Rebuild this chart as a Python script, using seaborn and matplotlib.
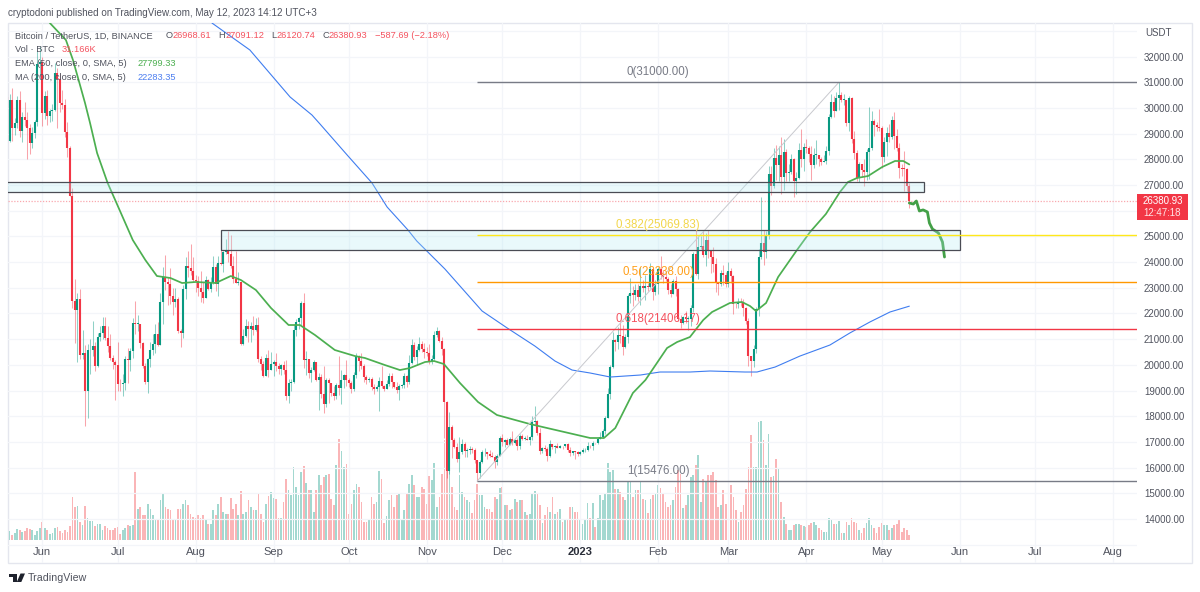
import numpy as np
import pandas as pd
import matplotlib
matplotlib.use("Agg")
import matplotlib.pyplot as plt
import matplotlib.dates as mdates
from matplotlib.patches import Rectangle, Polygon
import seaborn as sns

# BTC/USDT daily candles, 18 May 2022 to 12 May 2023; each row below is one calendar month
FIRST_DAY = "2022-05-18"
FIRST_OPEN = 30440

closes = [
 28700,30300,29200,29430,30290,29100,29650,29540,29200,28630,29020,29470,31720,31790,
 29800,30450,29700,29860,29900,31370,31130,30200,30110,29080,28420,26570,22490,22130,22580,20380,20470,18970,20570,20570,20720,19970,21100,21230,21500,21040,20730,20280,20100,19980,
 19260,19240,19310,20210,20180,20550,21640,21590,21590,20860,19970,19330,20210,20590,20830,21200,20780,22440,23400,23230,23160,22680,22450,22580,21310,21250,22960,23840,23770,23640,23300,
 23270,22980,22820,22620,23310,22950,23170,23810,23150,23950,23930,24400,24440,24300,23850,23340,23190,23210,20830,21140,21520,21400,21520,21370,21560,20240,20040,19550,20280,19810,20050,
 20130,19950,19830,20000,19800,18790,19290,19320,21360,21650,21830,22400,20170,20230,19700,19800,20110,19420,19540,18880,18480,19400,19290,18920,18800,19220,19080,19410,19590,19420,
 19310,19050,19620,20330,20160,19950,19530,19420,19440,19130,19060,19150,19370,19170,19070,19260,19550,19330,19120,19040,19160,19200,19570,19330,20090,20770,20290,20590,20820,20630,20490,
 20480,20150,20210,21150,21300,20920,20600,18540,15880,17600,17070,16810,16330,16610,16900,16660,16690,16700,16690,16280,15780,16220,16600,16600,16520,16460,16430,16210,16440,17170,
 16980,17090,16890,17110,16970,17090,16840,17220,17130,17130,17090,17210,17770,17800,17360,16630,16780,16740,16440,16900,16820,16830,16780,16840,16830,16920,16700,16550,16630,16600,16540,
 16620,16670,16670,16850,16830,16950,16940,17120,17180,17440,17940,18850,19930,20950,20870,21180,21130,20680,21070,22670,22780,22710,22920,22630,23060,23010,23080,23030,23740,22830,23130,
 23730,23490,23430,23330,22930,22760,23250,22960,21800,21630,21860,21780,21780,22200,24330,23520,24570,24630,24280,24840,24440,24190,23940,23190,23160,23560,23490,23130,
 23650,23470,22360,22350,22430,22410,22200,21700,20360,20150,20630,22160,24200,24750,24380,25050,27420,26970,28040,27770,28170,27300,28300,27470,27490,28000,27140,27270,28350,28030,28470,
 28450,28200,27790,28170,28170,28030,27900,27950,28330,29650,30230,29880,30390,30490,30320,30320,29430,30390,28800,28240,27260,27820,27590,27520,28300,28420,29480,29340,29250,29230,
 28070,28680,29030,28850,29530,28900,28450,27660,27630,27620,26968.61,26380.93,
]
highs = [
 30670,30540,30770,29600,30480,30670,29830,30220,29850,29390,29250,29530,32220,32400,
 31980,30650,30680,29950,30170,31760,31550,31320,30700,30350,29450,28530,26900,23360,22790,22970,21350,20780,20800,21000,21700,20900,21230,21520,21860,21860,21500,21200,20400,20170,
 20900,19430,19650,20350,20650,20670,21820,22500,21950,21600,20880,20060,20250,20880,21200,21600,21680,22780,23800,24280,23430,23750,22990,22990,22650,21400,23100,24200,24440,24700,24200,
 23500,23460,23640,23220,23470,23350,23400,24240,23920,24220,24920,24450,24890,25210,25050,24250,24450,23600,23210,21380,21800,21700,21670,21900,21820,21880,20330,20150,20420,20580,20490,
 20200,20450,20060,20050,20160,20180,19460,19460,21600,21800,21860,22490,22790,20550,20200,19900,20190,20100,19690,19630,19950,19480,19500,19300,19180,19310,20350,19780,19640,20180,
 19480,19390,19720,20470,20370,20450,20050,19600,19520,19520,19270,19220,19520,19950,19220,19420,19680,19700,19350,19350,19250,19250,19680,19600,20400,21020,20870,20750,21080,20930,20840,
 20700,20800,20400,21300,21480,21370,21070,20670,18600,18150,17650,17150,16950,17190,17130,17000,16750,16850,16810,16750,16290,16300,16700,16770,16620,16690,16600,16490,16530,17250,
 17320,17110,17150,17200,17430,17110,17140,17290,17300,17230,17270,17240,18000,18390,17850,17530,16800,16870,16820,17060,16900,16870,16950,16870,16860,16930,16970,16790,16660,16650,16630,
 16630,16770,16760,17000,16880,17040,16960,17180,17390,17490,18000,19100,19990,21260,21000,21480,21650,21560,21200,22750,23370,23080,23160,23150,23820,23290,23500,23190,23960,23780,23310,
 23810,24250,23710,23590,23430,23160,23350,23450,23000,21950,21900,22100,21900,22330,24380,25250,25020,25000,25190,25120,25250,24480,24600,24150,23210,23680,23880,23600,
 24000,23770,23480,22420,22620,22600,22550,22260,21820,20300,20790,22270,24500,26550,25250,25200,27750,27720,28450,28550,28500,28850,28800,28400,27800,28200,28050,27500,28650,29170,28650,
 28800,28530,28500,28450,28750,28180,28100,28170,28530,29770,30550,30480,30620,31000,30600,30550,30320,30470,30410,29090,28370,27880,27830,28000,28400,30020,29880,29570,29450,29950,
 29300,28880,29250,29380,29680,29850,29170,28650,27830,28320,27650,27091.12,
]
lows = [
 28650,28670,28730,28950,29230,28850,28670,29300,28020,28200,28450,28830,29300,31200,
 29300,29570,29350,29450,29500,29880,29220,29850,29950,28850,28100,26560,22200,20850,20100,20230,20240,17620,17950,19640,20350,19770,19900,20940,21000,20950,20500,20200,19850,18630,
 19000,18970,18780,19040,19300,19770,20260,21190,21320,20640,19880,19240,18900,19900,20380,20480,20750,20770,21580,22900,22340,22350,21930,22250,21250,20700,21040,22580,23400,23500,23230,
 22850,22660,22430,22400,22600,22920,22850,23150,22870,22660,23900,23600,24300,24000,23780,23200,23190,23100,20780,20760,21100,20890,20890,21150,21320,20100,19800,19520,19550,19530,19800,
 19570,19750,19660,19600,19630,18640,18500,19000,19300,21120,21380,21550,19870,19620,19500,19320,19750,19370,18230,18720,18120,18360,18530,18800,18630,18680,18820,18470,19100,19170,
 19150,18920,19000,19500,19750,19850,19320,19250,19320,19020,18860,18970,18190,19080,18970,19060,19160,19100,19080,18900,18650,19110,19100,19150,19240,20050,20200,20000,20540,20500,20250,
 20350,20050,20030,20170,21100,20880,20380,17170,15590,15750,16360,16750,16230,15820,16530,16400,16400,16540,16550,16180,15476,15610,16170,16460,16350,16400,16400,15990,16110,16440,
 16860,16790,16870,16880,16880,16900,16680,16730,17060,17090,17070,16870,17090,17660,17280,16520,16580,16660,16270,16400,16720,16560,16760,16780,16710,16790,16590,16470,16490,16330,16470,
 16490,16550,16610,16650,16750,16670,16910,16910,17100,17140,17310,17920,18690,19880,20550,20600,20850,20400,20660,20860,22420,22290,22510,22470,22320,22850,22520,22880,23000,22520,22710,
 22760,23360,23200,23250,22750,22630,22740,22680,21700,21450,21600,21630,21350,21530,22050,23500,23340,24500,24200,23850,24150,23570,23620,22850,22720,23050,23100,23020,
 23020,23200,21970,22200,22200,22300,21920,21580,19950,19570,19900,20450,21900,24100,23900,24150,24900,26620,26900,27200,27150,26630,26800,27150,27160,27430,26520,26650,27240,27700,27530,
 28250,27880,27200,27650,27820,27750,27780,27880,27800,28170,29600,29650,29870,29920,30230,30120,29300,29100,28650,28000,27150,27130,27330,26950,27200,27240,28380,28900,29100,29100,
 27670,27880,28120,28680,28800,28400,28320,27280,27350,26750,26750,26120.74,
]
# Traded volume in thousands of BTC
volumes = [
 66,55,30,42,65,60,50,55,70,65,62,30,55,70,
 108,70,60,35,40,70,80,55,40,60,50,85,260,198,206,108,88,202,134,114,114,82,98,94,62,82,72,58,62,74,
 80,36,58,74,92,86,92,410,188,198,148,148,218,188,148,128,122,242,274,198,188,178,128,128,188,188,218,242,208,158,140,
 130,150,135,150,128,94,94,178,148,218,258,168,158,158,254,188,218,148,294,158,168,238,198,178,178,282,158,108,218,262,288,
 254,248,134,134,228,368,298,268,438,318,268,408,442,342,298,298,168,298,388,332,378,388,398,248,208,448,608,534,438,458,
 158,218,298,338,318,228,108,108,122,258,218,228,412,368,100,142,238,268,200,268,278,118,178,278,334,388,328,258,258,318,308,
 218,382,362,464,198,258,398,600,640,470,320,200,180,388,288,258,238,228,162,242,334,268,268,198,188,188,168,258,248,314,
 318,208,208,178,188,248,228,242,242,168,148,158,278,294,274,208,104,148,198,168,258,158,168,188,108,128,128,198,198,168,168,
 118,98,122,220,130,220,80,130,268,238,278,464,408,420,308,308,288,258,238,354,354,258,298,302,354,248,238,160,248,270,280,
 328,314,278,228,200,208,240,318,418,398,190,208,270,378,388,448,508,228,368,348,388,388,408,358,198,208,298,218,
 322,328,258,180,110,168,208,308,438,632,438,438,708,714,598,448,638,378,382,488,432,228,138,98,58,58,88,98,98,90,85,
 80,90,100,110,90,70,60,50,50,130,120,95,95,115,45,45,110,90,135,110,100,60,40,75,105,130,90,70,45,80,
 105,90,90,60,70,90,95,125,50,75,60,31.166,
]

# Moving averages, given as day offsets from 1 Jun 2022 and price
ema_days = [3,9.4,12.2,15,17,19,21.8,26,29,36,41,45.6,51,55.6,61,69,75,79,85,91,98,102.5,108.5,116.4,124.4,128.4,136.3,142.3,146.3,152.3,155.9,159.8,166.2,173.4,180.9,194,206,218,223.5,228,235,240,248.6,252.6,257.7,263,266.5,273.6,278.4,281.6,284,288,292.8,300.3,305.5,311.8,317.4,320.6,324.2,328.6,334.2,339.3,342.6,345]
ema_vals = [33304,32642,31864,30891,30190,29412,28244,27077,26415,24858,24080,23457,23379,23185,23224,23185,23457,23302,22912,22212,21550,21550,21161,20577,20343,20265,19993,19798,19876,20110,20149,20032,19293,18553,18048,17697,17425,17153,17153,17542,18904,19410,20655,20888,21083,21745,22056,22407,22446,22290,22095,22407,23418,24469,25169,25870,26727,27116,27272,27349,27699,27933,27933,27799.33]
ma_days = [67.5,82.6,89.4,98.6,107.3,110.5,121.3,131.2,137.2,145.5,149,160.2,175,185,196,204,210.8,218,226,238,245.8,257.7,265.7,279.6,284.4,291.6,301.5,313.4,321.3,329.3,337.3,345]
ma_vals = [33304,32253,31475,30424,29723,29373,28167,27077,26143,25248,24820,23730,22095,21433,20732,20149,19798,19682,19526,19604,19721,19721,19760,19721,19721,19915,20343,20771,21238,21667,22056,22283.35]
# Hand-drawn projection path after the last candle
path_days = [345,346.6,347.8,349,350.5,352.2,353,354.2,356.6,358.2,359]
path_vals = [26298,26259,26376,25987,26030,25950,25520,25286,25130,24780,24196]

# Fibonacci retracement levels
fib_levels = [31000.00,25069.83,23238.00,21406.17,15476.00]
fib_labels = ["0(31000.00)","0.382(25069.83)","0.5(23238.00)","0.618(21406.17)","1(15476.00)"]
fib_colors = ["#787b86","#ffe81a","#ff9800","#f23645","#787b86"]
fib_text_colors = ["#787b86","#f2d64b","#ff9f1a","#f4525f","#787b86"]

# Supply/demand zones: first day offset, last day offset, lower price, upper price
zone_from = [-60,71]
zone_to = [351,365]
zone_low = [26715,24457]
zone_high = [27104,25248]

price_ticks = [14000,15000,16000,17000,18000,19000,20000,21000,22000,23000,24000,25000,27000,28000,29000,30000,31000,32000]
month_dates = ["2022-06-01","2022-07-01","2022-08-01","2022-09-01","2022-10-01","2022-11-01","2022-12-01","2023-01-01","2023-02-01","2023-03-01","2023-04-01","2023-05-01","2023-06-01","2023-07-01","2023-08-01"]
month_labels = ["Jun","Jul","Aug","Sep","Oct","Nov","Dec","2023","Feb","Mar","Apr","May","Jun","Jul","Aug"]
last_price = 26380.93

UP, DOWN = "#089981", "#f23645"
INK = "#50535e"

sns.set_theme(style="white")
plt.rcParams["font.family"] = ["Liberation Sans", "DejaVu Sans"]

W, H = 1200, 592
fig = plt.figure(figsize=(W / 100, H / 100), dpi=100, facecolor="white")

def fx(px):
    return px / W

def fy(py):
    return 1 - py / H

plot_box = [fx(8), fy(563), fx(1137) - fx(8), fy(23) - fy(563)]
ax_vol = fig.add_axes(plot_box, zorder=0)
ax = fig.add_axes(plot_box, zorder=1)
ax.patch.set_visible(False)

dates = pd.date_range(FIRST_DAY, periods=len(closes), freq="D")
df = pd.DataFrame({"day": mdates.date2num(dates), "close": closes, "high": highs,
                   "low": lows, "volume": volumes})
df["open"] = df["close"].shift(1).fillna(FIRST_OPEN)
df["dir"] = np.where(df["close"] >= df["open"], "up", "down")

day0 = mdates.date2num(pd.Timestamp("2022-06-01"))
xlim = (day0 - 13.65, day0 + 435.6)
ylim = (12288, 33304)

# Volume histogram on its own hidden scale, under the candles
sns.barplot(data=df, x="day", y="volume", hue="dir", native_scale=True, dodge=False,
            palette={"up": "#a3d8d0", "down": "#fab5b7"}, saturation=1, width=0.68,
            linewidth=0, errorbar=None, legend=False, ax=ax_vol)
ax_vol.set_xlim(*xlim)
ax_vol.set_ylim(-138, 3102)
ax_vol.set_axis_off()

# Grid
ax.set_xlim(*xlim)
ax.set_ylim(*ylim)
for g in range(13000, 34000, 1000):
    ax.axhline(g, color="#f3f5f9", lw=0.9, zorder=0.5)
tick_pos = mdates.date2num(pd.to_datetime(month_dates))
for t in tick_pos:
    ax.axvline(t, color="#f3f5f9", lw=0.9, zorder=0.5)

# Candles: pale wicks, solid bodies
wick_colors = [(UP if d == "up" else DOWN) for d in df["dir"]]
ax.vlines(df["day"], df["low"], df["high"], colors=wick_colors, lw=0.75, alpha=0.45, zorder=2)
body_low = df[["open", "close"]].min(axis=1)
body_high = df[["open", "close"]].max(axis=1)
ax.vlines(df["day"], body_low, np.maximum(body_high, body_low + 25), colors=wick_colors, lw=1.5, zorder=2.2)

# Moving averages and projection path
ema_df = pd.DataFrame({"day": day0 + np.array(ema_days), "price": ema_vals})
ma_df = pd.DataFrame({"day": day0 + np.array(ma_days), "price": ma_vals})
path_df = pd.DataFrame({"day": day0 + np.array(path_days), "price": path_vals})
sns.lineplot(data=ma_df, x="day", y="price", color="#3f7df0", lw=0.8, ax=ax, zorder=3)
sns.lineplot(data=ema_df, x="day", y="price", color="#4caf50", lw=1.25, ax=ax, zorder=3.1)
sns.lineplot(data=path_df, x="day", y="price", color="#43a047", lw=2.0, ax=ax, zorder=3.2)

# Zones
for a, b, lo, hi in zip(zone_from, zone_to, zone_low, zone_high):
    ax.add_patch(Rectangle((day0 + a, lo), b - a, hi - lo, facecolor="#b2ebf2", alpha=0.28,
                           edgecolor="none", zorder=3.4))
    ax.add_patch(Rectangle((day0 + a, lo), b - a, hi - lo, facecolor="none",
                           edgecolor="#4a4c54", lw=0.9, zorder=3.5))

# Fibonacci levels from the 21 Nov low to the 14 Apr high
fib_start = mdates.date2num(pd.Timestamp("2022-11-21"))
fib_end = mdates.date2num(pd.Timestamp("2023-04-14"))
ax.plot([fib_start, fib_end], [fib_levels[-1], fib_levels[0]], color="#c8c9ce", lw=0.7, zorder=3.3)
label_day = day0 + 245
for level, text, c, tc in zip(fib_levels, fib_labels, fib_colors, fib_text_colors):
    ax.hlines(level, fib_start, xlim[1], color=c, lw=1.0, zorder=3.6)
    ax.annotate(text, (label_day, level), xytext=(0, 7.2), textcoords="offset points",
                ha="center", va="center", fontsize=8.3, color=tc, zorder=4)

# Last price marker
ax.axhline(last_price, color="#f9a8ae", lw=0.9, ls=(0, (1, 1.3)), zorder=1.5)

# Price scale and time scale
ax.yaxis.tick_right()
ax.set_yticks(price_ticks)
ax.set_yticklabels([f"{p:.2f}" for p in price_ticks], fontsize=7.05, color=INK)
ax.set_xticks(tick_pos)
ax.set_xticklabels(month_labels, fontsize=8, color=INK)
for lab in ax.get_xticklabels():
    if lab.get_text() == "2023":
        lab.set_fontweight("bold")
        lab.set_color("#2a2e39")
ax.tick_params(axis="y", length=0, pad=5)
ax.tick_params(axis="x", length=0, pad=-11.5)
ax.set_xlabel("")
ax.set_ylabel("")
for s in ax.spines.values():
    s.set_visible(False)

# Outer frame around plot and price scale
fig.add_artist(Rectangle((fx(8), fy(563)), fx(1192) - fx(8), fy(23) - fy(563), transform=fig.transFigure,
                         facecolor="none", edgecolor="#e4e6ee", lw=1.0, zorder=0))

# Price badge
fig.add_artist(Rectangle((fx(1137), fy(220)), fx(1188) - fx(1137), fy(194) - fy(220), transform=fig.transFigure,
                         facecolor="#f23645", edgecolor="none", zorder=5))
fig.text(fx(1162.5), fy(201), "26380.93", color="white", fontsize=7.05, ha="center", va="center", zorder=6)
fig.text(fx(1162.5), fy(213), "12:47:18", color="#ffe3e5", fontsize=7.05, ha="center", va="center", zorder=6)
fig.text(fx(1145), fy(33.5), "USDT", color=INK, fontsize=7, ha="left", va="center")

# Header and indicator legend
def label(x, y, s, color=INK, size=6.65, **kw):
    fig.text(fx(x), fy(y), s, color=color, fontsize=size, ha="left", va="center", zorder=6, **kw)

label(8.5, 13, "cryptodoni published on TradingView.com, May 12, 2023 14:12 UTC+3", size=7.1)
label(15, 36, "Bitcoin / TetherUS, 1D, BINANCE")
RED = "#f4525f"
for x, s, c in [(166, "O", INK), (172.7, "26968.61", RED), (218.7, "H", INK), (226, "27091.12", RED),
                (271.7, "L", INK), (276.7, "26120.74", RED), (322.7, "C", INK), (328.3, "26380.93", RED),
                (375, "\u2212587.69 (\u22122.18%)", RED)]:
    label(x, 36, s, c)
label(15, 50, "Vol \u00b7 BTC")
label(61.7, 50, "31.166K", RED)
label(15, 63.5, "EMA (50, close, 0, SMA, 5)")
label(137.3, 63.5, "27799.33", "#4caf50")
label(15, 77.5, "MA (200, close, 0, SMA, 5)")
label(137.3, 77.5, "22283.35", "#4d7ff0")

# TradingView mark and wordmark
logo = "#1e222d"
def pts(*xy):
    return [(fx(x), fy(y)) for x, y in xy]

fig.add_artist(Polygon(pts((8.5, 573.5), (17, 573.5), (17, 582), (12.7, 582), (12.7, 577), (8.5, 577)),
                       closed=True, transform=fig.transFigure, facecolor=logo, edgecolor="none"))
fig.add_artist(Polygon(pts((20.5, 573.5), (25, 573.5), (21.3, 582), (16.8, 582)),
                       closed=True, transform=fig.transFigure, facecolor=logo, edgecolor="none"))
label(28, 578, "TradingView", color="#50535e", size=7.7)

fig.savefig("out.png", dpi=100, facecolor="white")
